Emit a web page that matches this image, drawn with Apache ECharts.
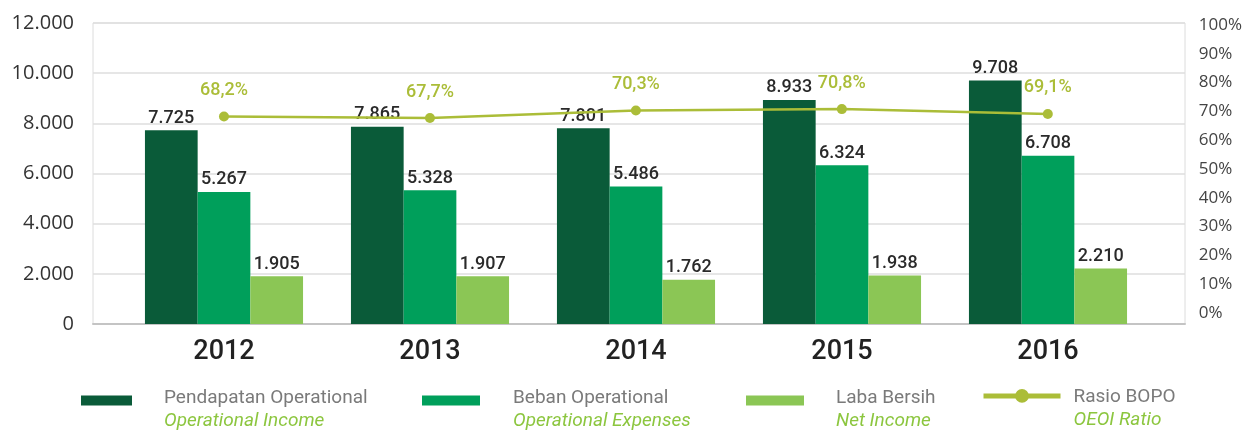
<!DOCTYPE html>
<html>
<head>
<meta charset="utf-8">
<script src="https://cdn.jsdelivr.net/npm/echarts@6/dist/echarts.min.js"></script>
<style>
html,body{margin:0;padding:0;background:#fff;}
#chart{width:1245px;height:430px;}
</style>
</head>
<body>
<div id="chart"></div>
<script>
var years = ['2012', '2013', '2014', '2015', '2016'];
var income = [7725, 7865, 7801, 8933, 9708];
var expenses = [5267, 5328, 5486, 6324, 6708];
var netIncome = [1905, 1907, 1762, 1938, 2210];
var bopo = [68.2, 67.7, 70.3, 70.8, 69.1];
var leftTicks = { min: 0, max: 12000, interval: 2000 };
var rightTicks = { min: 0, max: 100, interval: 10 };
var names = ['Pendapatan Operational', 'Beban Operational', 'Laba Bersih', 'Rasio BOPO'];
var subNames = ['Operational Income', 'Operational Expenses', 'Net Income', 'OEOI Ratio'];

var C_DARK = '#0a5b39', C_MID = '#009f5b', C_LIGHT = '#8bc655', C_LINE = '#abbd38';

function thousands(v) { return String(v).replace(/\B(?=(\d{3})+(?!\d))/g, '.'); }

function legendFor(i, left, w, h, icon, pad, topPos, isLine) {
  var l = {
    data: [names[i]],
    left: left, top: topPos, padding: 0,
    itemWidth: w, itemHeight: h,
    selectedMode: false,
    formatter: function (n) {
      var k = names.indexOf(n);
      return (isLine ? '{z| }\n' : '') + '{a|' + n + '}\n{b|' + subNames[k] + '}';
    },
    textStyle: {
      rich: {
        z: { fontSize: 1, lineHeight: 4.2 },
        a: { fontFamily: 'Roboto', fontSize: 19, color: '#7a7a7a', lineHeight: isLine ? 44.8 : 41.8, padding: [0, 0, 0, pad] },
        b: { fontFamily: 'Roboto', fontSize: 19, fontStyle: 'italic', color: '#8cc63f', lineHeight: isLine ? 2 : 5, padding: [0, 0, 0, pad] }
      }
    }
  };
  if (icon) l.icon = icon;
  return l;
}

var chart = echarts.init(document.getElementById('chart'));
chart.setOption({
  animation: false,
  backgroundColor: '#fff',
  legend: [
    legendFor(0, 81, 51, 10, 'rect', 27, 388.5, false),
    legendFor(1, 422, 58, 10, 'rect', 28, 388.5, false),
    legendFor(2, 746, 58, 10, 'rect', 27, 388.5, false),
    (function () { var l = legendFor(3, 981, 77, 17, null, 8, 372, true); l.lineStyle = { width: 5 }; return l; })()
  ],
  grid: [
    { left: 93, right: 60, top: 23, bottom: 106, show: true, borderColor: '#dcdcdc', borderWidth: 1, backgroundColor: 'transparent' },
    { left: 121, right: 94, top: 23, bottom: 106 },
    { left: 121, right: 94, top: 25, bottom: 117 }
  ],
  xAxis: [
    { gridIndex: 0, type: 'category', data: years, axisLabel: { show: false }, axisTick: { show: false },
      axisLine: { show: true, lineStyle: { color: '#c4c4c4', width: 2 } } },
    { gridIndex: 1, type: 'category', data: years, axisTick: { show: false }, axisLine: { show: false },
      axisLabel: { margin: 15, fontFamily: 'Roboto', fontSize: 27, fontWeight: 500, color: '#222' } },
    { gridIndex: 2, type: 'category', data: years, show: false }
  ],
  yAxis: [
    { gridIndex: 0, type: 'value', min: leftTicks.min, max: leftTicks.max, interval: leftTicks.interval,
      axisLine: { show: false }, axisTick: { show: false },
      splitLine: { lineStyle: { color: '#dedede', width: 1.5 } },
      axisLabel: { margin: 19, fontFamily: 'Open Sans', fontSize: 20, color: '#333', formatter: thousands } },
    { gridIndex: 1, type: 'value', min: leftTicks.min, max: leftTicks.max, show: false },
    { gridIndex: 2, type: 'value', position: 'right', min: rightTicks.min, max: rightTicks.max, interval: rightTicks.interval,
      axisLine: { show: false }, axisTick: { show: false }, splitLine: { show: false },
      axisLabel: { margin: 48, align: 'left', fontFamily: 'Open Sans', fontSize: 17, color: '#444', formatter: '{value}%' } }
  ],
  series: [
    { name: names[0], type: 'bar', xAxisIndex: 1, yAxisIndex: 1, data: income, barWidth: 52.7, barGap: '0%',
      itemStyle: { color: C_DARK },
      label: { show: true, position: 'top', distance: 3, fontFamily: 'Roboto', fontSize: 18, fontWeight: 500, color: '#2a2a2a',
        formatter: function (p) { return thousands(p.value); } } },
    { name: names[1], type: 'bar', xAxisIndex: 1, yAxisIndex: 1, data: expenses, barWidth: 52.7, barGap: '0%',
      itemStyle: { color: C_MID },
      label: { show: true, position: 'top', distance: 3, fontFamily: 'Roboto', fontSize: 18, fontWeight: 500, color: '#2a2a2a',
        formatter: function (p) { return thousands(p.value); } } },
    { name: names[2], type: 'bar', xAxisIndex: 1, yAxisIndex: 1, data: netIncome, barWidth: 52.7, barGap: '0%',
      itemStyle: { color: C_LIGHT },
      label: { show: true, position: 'top', distance: 3, fontFamily: 'Roboto', fontSize: 18, fontWeight: 500, color: '#2a2a2a',
        formatter: function (p) { return thousands(p.value); } } },
    { name: names[3], type: 'line', xAxisIndex: 2, yAxisIndex: 2, data: bopo, symbol: 'circle', symbolSize: 10,
      lineStyle: { color: C_LINE, width: 2.5 }, itemStyle: { color: C_LINE }, z: 5,
      label: { show: true, position: 'top', distance: 12, fontFamily: 'Roboto', fontSize: 18, fontWeight: 500, color: C_LINE,
        formatter: function (p) { return String(p.value.toFixed(1)).replace('.', ',') + '%'; } } }
  ]
});
</script>
</body>
</html>
